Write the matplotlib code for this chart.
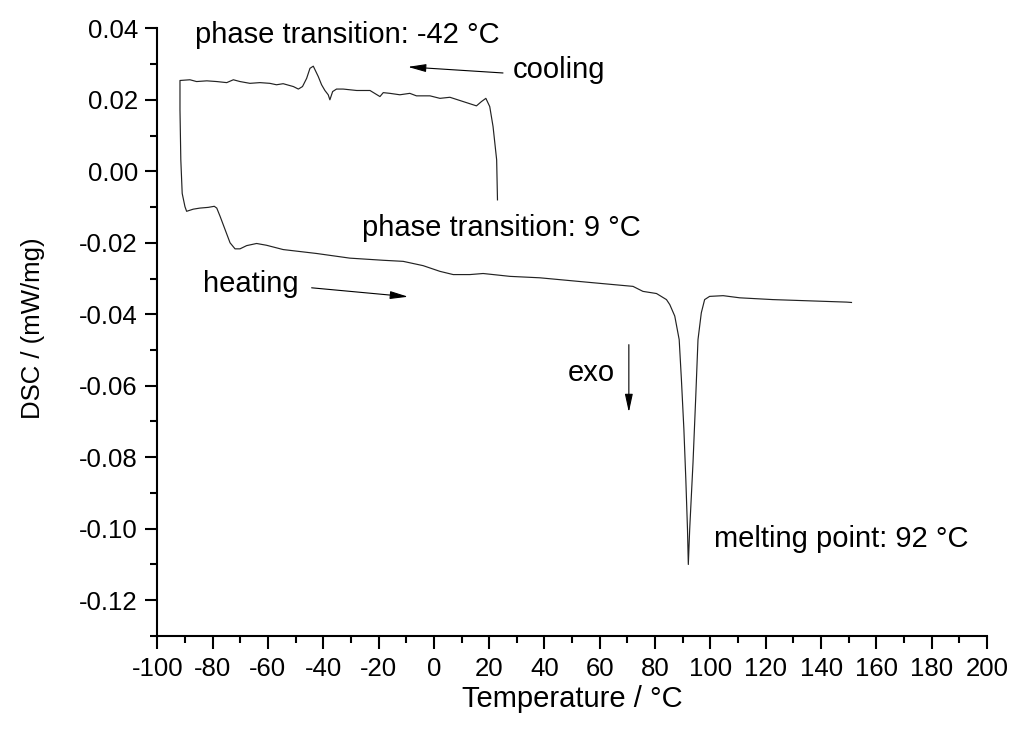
import numpy as np
import matplotlib
matplotlib.use("Agg")
import matplotlib.pyplot as plt
from matplotlib.ticker import MultipleLocator, FormatStrFormatter

# ---- DSC trace: cooling run (23 -> -92 °C) ----
cool_T = [23.0, 22.7, 21.4, 20.2, 18.8, 17.2, 15.4, 13.0, 9.4, 5.8, 2.2, -1.4,
          -6.3, -8.7, -12.3, -15.9, -18.3, -19.5, -23.1, -27.9, -32.8, -35.2,
          -36.6, -37.6, -38.2, -39.4, -40.6, -41.8, -43.6, -44.8, -46.0, -47.5,
          -49.0, -50.8, -54.5, -56.9, -59.3, -62.9, -66.5, -70.1, -72.5, -74.9,
          -78.5, -82.1, -85.8, -88.2, -91.8, -91.8, -91.5, -91.0, -90.0, -89.4]
cool_dsc = [-0.0080, 0.0032, 0.0125, 0.0181, 0.0204, 0.0195, 0.0183, 0.0189,
            0.0198, 0.0207, 0.0204, 0.0211, 0.0211, 0.0218, 0.0214, 0.0218,
            0.0220, 0.0209, 0.0226, 0.0226, 0.0230, 0.0230, 0.0223, 0.0200,
            0.0214, 0.0226, 0.0242, 0.0265, 0.0294, 0.0288, 0.0260, 0.0237,
            0.0230, 0.0237, 0.0245, 0.0242, 0.0246, 0.0248, 0.0246, 0.0251,
            0.0256, 0.0248, 0.0251, 0.0253, 0.0251, 0.0256, 0.0254, 0.0172,
            0.0032, -0.0062, -0.0099, -0.0112]

# ---- heating run (-92 -> 151 °C) ----
heat_T = [-87.0, -84.6, -81.6, -79.4, -78.5, -77.3, -75.5, -73.7, -71.9, -70.1,
          -67.7, -64.1, -60.5, -54.5, -42.4, -30.4, -18.3, -11.1, -3.9, 2.2,
          7.0, 13.0, 17.8, 22.7, 27.5, 38.3, 56.4, 72.0, 75.6, 80.5, 84.1,
          85.3, 87.1, 88.7, 89.5, 90.4, 91.1, 91.7, 92.0, 92.5, 93.7, 94.7,
          95.5, 96.7, 97.9, 99.7, 104.6, 110.6, 122.6, 149.2, 151.0]
heat_dsc = [-0.0106, -0.0103, -0.0101, -0.0098, -0.0103, -0.0126, -0.0163,
            -0.0200, -0.0217, -0.0217, -0.0208, -0.0202, -0.0207, -0.0219,
            -0.0230, -0.0243, -0.0249, -0.0252, -0.0264, -0.0280, -0.0289,
            -0.0289, -0.0286, -0.0290, -0.0294, -0.0298, -0.0311, -0.0322,
            -0.0336, -0.0342, -0.0359, -0.0373, -0.0405, -0.0471, -0.0582,
            -0.0722, -0.0862, -0.1001, -0.1100, -0.1001, -0.0815, -0.0629,
            -0.0471, -0.0396, -0.0359, -0.0350, -0.0348, -0.0354, -0.0359,
            -0.0366, -0.0367]

T = cool_T + heat_T
dsc = cool_dsc + heat_dsc

plt.rcParams["font.family"] = ["Liberation Sans", "DejaVu Sans"]
plt.rcParams["axes.unicode_minus"] = False

fig = plt.figure(figsize=(10.09, 7.31), dpi=100)
ax = fig.add_axes([0.1559, 0.130, 0.8223, 0.8313])

ax.plot(T, dsc, color="#222222", lw=0.85)

ax.set_xlim(-100, 200)
ax.set_ylim(-0.13, 0.04)
ax.xaxis.set_major_locator(MultipleLocator(20))
ax.xaxis.set_minor_locator(MultipleLocator(10))
ax.yaxis.set_major_locator(MultipleLocator(0.02))
ax.yaxis.set_minor_locator(MultipleLocator(0.01))
ax.yaxis.set_major_formatter(FormatStrFormatter("%.2f"))

for side in ("top", "right"):
    ax.spines[side].set_visible(False)
for side in ("left", "bottom"):
    ax.spines[side].set_linewidth(1.5)

ax.tick_params(which="major", direction="out", length=9, width=1.5,
               labelsize=18.5, pad=5)
ax.tick_params(axis="x", which="major", pad=6)
ax.tick_params(which="minor", direction="out", length=5, width=1.5)

ax.set_xlabel("Temperature / °C", fontsize=21)
ax.set_ylabel("DSC / (mW/mg)", fontsize=18.5)
ax.xaxis.set_label_coords(0.5, -0.081)
ax.yaxis.set_label_coords(-0.135, 0.507)

# annotations
fs = 21
ax.text(-86.4, 0.0359, "phase transition: -42 °C", fontsize=fs, va="baseline")
ax.text(28.6, 0.0261, "cooling", fontsize=fs, va="baseline")
ax.text(-26.0, -0.0180, "phase transition: 9 °C", fontsize=fs, va="baseline")
ax.text(-83.5, -0.0339, "heating", fontsize=fs, va="baseline")
ax.text(65.4, -0.0588, "exo", fontsize=fs, va="baseline", ha="right")
ax.text(101.2, -0.1052, "melting point: 92 °C", fontsize=fs, va="baseline")

arrow = dict(arrowstyle="-|>,head_length=0.55,head_width=0.12",
             color="black", lw=0.8, mutation_scale=20, shrinkA=0, shrinkB=0)
ax.annotate("", xy=(-9.4, 0.0292), xytext=(25.0, 0.0275), arrowprops=arrow)
ax.annotate("", xy=(-9.3, -0.0351), xytext=(-44.2, -0.0326), arrowprops=arrow)
ax.annotate("", xy=(70.5, -0.0674), xytext=(70.5, -0.0485), arrowprops=arrow)

fig.savefig("out.png", dpi=100)
